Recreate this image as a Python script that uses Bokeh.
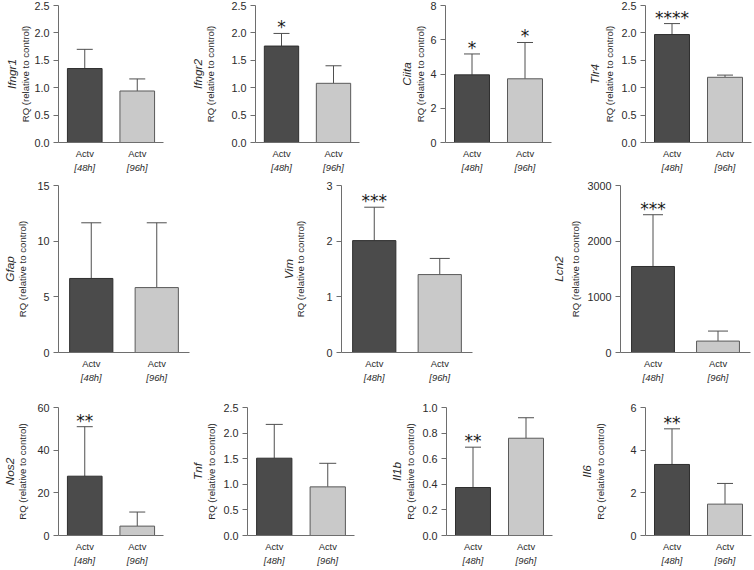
from bokeh.plotting import figure
from bokeh.models import (Range1d, FixedTicker, LinearAxis, Title, Whisker, TeeHead,
                          ColumnDataSource, NumeralTickFormatter, CustomJSTickFormatter)
from bokeh.layouts import column, row
from bokeh.core.properties import value
from bokeh.embed import file_html
from bokeh.resources import INLINE

# ---------------- data ----------------
genes = ["Ifngr1", "Ifngr2", "Ciita", "Tlr4", "Gfap", "Vim", "Lcn2",
         "Nos2", "Tnf", "Il1b", "Il6"]
groups = ["48h", "96h"]
group_line1 = ["Actv", "Actv"]
group_line2 = ["[48h]", "[96h]"]
y_label = "RQ (relative to control)"

mean_48h = [1.35, 1.76, 3.95, 1.97, 6.65, 2.01, 1545, 27.8, 1.51, 0.375, 3.33]
upper_48h = [1.70, 1.99, 5.17, 2.17, 11.65, 2.61, 2475, 51.0, 2.17, 0.69, 5.0]
mean_96h = [0.94, 1.08, 3.72, 1.19, 5.83, 1.40, 205, 4.4, 0.95, 0.76, 1.47]
upper_96h = [1.16, 1.40, 5.84, 1.23, 11.65, 1.69, 385, 11.0, 1.41, 0.92, 2.44]
stars_48h = ["", "*", "*", "****", "", "***", "***", "**", "", "**", "**"]
stars_96h = ["", "", "*", "", "", "", "", "", "", "", ""]

y_ticks = [
    [0, 0.5, 1.0, 1.5, 2.0, 2.5],
    [0, 0.5, 1.0, 1.5, 2.0, 2.5],
    [0, 2, 4, 6, 8],
    [0, 0.5, 1.0, 1.5, 2.0, 2.5],
    [0, 5, 10, 15],
    [0, 1, 2, 3],
    [0, 1000, 2000, 3000],
    [0, 20, 40, 60],
    [0, 0.5, 1.0, 1.5, 2.0, 2.5],
    [0, 0.2, 0.4, 0.6, 0.8, 1.0],
    [0, 2, 4, 6],
]
y_tick_labels = [
    ["0.0", "0.5", "1.0", "1.5", "2.0", "2.5"],
    ["0.0", "0.5", "1.0", "1.5", "2.0", "2.5"],
    ["0", "2", "4", "6", "8"],
    ["0.0", "0.5", "1.0", "1.5", "2.0", "2.5"],
    ["0", "5", "10", "15"],
    ["0", "1", "2", "3"],
    ["0", "1000", "2000", "3000"],
    ["0", "20", "40", "60"],
    ["0.0", "0.5", "1.0", "1.5", "2.0", "2.5"],
    ["0.0", "0.2", "0.4", "0.6", "0.8", "1.0"],
    ["0", "2", "4", "6"],
]

# ---------------- layout (reference pixel geometry) ----------------
SX = 752 / 754
SY = 568 / 570
ROW_EDGES = [0, 178, 386, 570]
FRAME_Y = [(5, 142), (185.5, 358), (408, 543)]
PANEL_ROWS = [[0, 1, 2, 3], [4, 5, 6], [7, 8, 9, 10]]
# (cell_left, cell_right, frame_left, frame_right)
PANEL_X = [
    (0, 185, 58, 163), (185, 375, 256, 360), (375, 565, 446, 552), (565, 754, 647, 753),
    (0, 250, 58, 190), (250, 505, 342, 473), (505, 754, 622, 752),
    (0, 185, 58, 163), (185, 375, 248, 355), (375, 565, 447, 553), (565, 754, 647, 753),
]
RQ_DIST = [33.5, 46, 25.3, 37, 37, 42, 45.3, 36.3, 36.3, 37, 45.3]
GENE_DIST = [11.5, 9.5, 12, 13, 9.5, 8.5, 17, 10, 11, 11.5, 11]
RQ_FIX = -4
GENE_FIX = -2

FONT = "Liberation Sans"
TICK_SIZE = 10.8
LABEL_SIZE = 9.6
GENE_SIZE = 11.8
CAT_SIZE = 9.4
STAR_SIZE = 17
AX = "#6e6e6e"
TXT = "#2b2b2b"
DARK, DARK_LINE = "#4b4b4b", "#2f2f2f"
LIGHT, LIGHT_LINE = "#c9c9c9", "#5a5a5a"
ERR = "#4f4f4f"
BAR_W = 0.66
TICK_OUT = 5
TICK_STANDOFF = 4


def tw(s, size):
    return sum(0.556 if c.isdigit() else 0.278 for c in s) * size


def make_panel(i, row_idx):
    cl, cr, fl, fr = PANEL_X[i]
    ft, fb = FRAME_Y[row_idx]
    rt, rb = ROW_EDGES[row_idx], ROW_EDGES[row_idx + 1]
    cl_o, cr_o = round(cl * SX), round(cr * SX)
    fl_o, fr_o = round(fl * SX), round(fr * SX)
    rt_o, rb_o = round(rt * SY), round(rb * SY)
    ft_o, fb_o = round(ft * SY), round(fb * SY)
    w = cr_o - cl_o
    h = rb_o - rt_o
    frame_w = fr_o - fl_o

    p = figure(width=w, height=h,
               x_range=Range1d(0, len(groups)),
               y_range=Range1d(0, y_ticks[i][-1]),
               output_backend="svg", toolbar_location=None, margin=(0, 0, 0, 0),
               min_border_left=fl_o - cl_o, min_border_right=cr_o - fr_o,
               min_border_top=ft_o - rt_o, min_border_bottom=rb_o - fb_o)
    p.xgrid.visible = False
    p.ygrid.visible = False
    p.outline_line_color = None
    p.background_fill_color = "white"
    p.border_fill_color = "white"

    ya = p.yaxis[0]
    ya.ticker = FixedTicker(ticks=y_ticks[i])
    ya.formatter = NumeralTickFormatter(format="0.0" if "." in y_tick_labels[i][0] else "0")
    ya.major_label_overrides = {float(t): l for t, l in zip(y_ticks[i], y_tick_labels[i])}
    ya.minor_tick_line_color = None
    ya.major_tick_out = TICK_OUT
    ya.major_tick_in = 0
    ya.axis_line_color = AX
    ya.major_tick_line_color = AX
    ya.major_label_standoff = TICK_STANDOFF
    ya.major_label_text_font = FONT
    ya.major_label_text_font_size = f"{TICK_SIZE}px"
    ya.major_label_text_color = TXT
    ya.axis_label = y_label
    ya.axis_label_text_font = FONT
    ya.axis_label_text_font_style = "normal"
    ya.axis_label_text_font_size = f"{LABEL_SIZE}px"
    ya.axis_label_text_color = TXT
    maxw = max(tw(s, TICK_SIZE) for s in y_tick_labels[i])
    lh = LABEL_SIZE * 1.15
    als = RQ_DIST[i] * SX - TICK_OUT - TICK_STANDOFF - maxw - lh / 2 + RQ_FIX
    ya.axis_label_standoff = int(round(als))

    gh = GENE_SIZE * 1.15
    gstand = GENE_DIST[i] * SX - lh / 2 - gh / 2 + GENE_FIX
    p.add_layout(Title(text=genes[i], align="center", text_font=FONT,
                       text_font_style="italic", text_font_size=f"{GENE_SIZE}px",
                       text_color=TXT, standoff=int(round(gstand))), "left")

    xpos = [k + 0.5 for k in range(len(groups))]
    xa = p.xaxis[0]
    xa.ticker = FixedTicker(ticks=xpos)
    xa.formatter = CustomJSTickFormatter(args=dict(labels=group_line1),
                                         code="return labels[Math.floor(tick)];")
    xa.minor_tick_line_color = None
    xa.major_tick_line_color = None
    xa.major_tick_out = 0
    xa.major_tick_in = 0
    xa.major_label_standoff = 5
    xa.axis_line_color = AX
    xa.major_label_text_font = FONT
    xa.major_label_text_font_size = f"{CAT_SIZE}px"
    xa.major_label_text_color = TXT
    xa2 = LinearAxis(ticker=FixedTicker(ticks=xpos),
                     formatter=CustomJSTickFormatter(args=dict(labels=group_line2),
                                                     code="return labels[Math.floor(tick)];"),
                     axis_line_color=None, major_tick_line_color=None,
                     minor_tick_line_color=None,
                     major_tick_out=0, major_tick_in=0, major_label_standoff=0,
                     major_label_text_font=FONT, major_label_text_font_style="italic",
                     major_label_text_font_size=f"{CAT_SIZE}px",
                     major_label_text_color=TXT)
    p.add_layout(xa2, "below")

    src = ColumnDataSource(dict(
        x=xpos,
        m=[mean_48h[i], mean_96h[i]],
        u=[upper_48h[i], upper_96h[i]],
        s=[stars_48h[i], stars_96h[i]],
        fill=[DARK, LIGHT],
        line=[DARK_LINE, LIGHT_LINE],
    ))
    cap = max(6, int(round(frame_w * 0.5 * BAR_W * 0.47)))
    p.add_layout(Whisker(source=src, base="x", lower="m", upper="u", dimension="height",
                         line_color=ERR, line_width=1,
                         upper_head=TeeHead(size=cap, line_color=ERR, line_width=1),
                         lower_head=None))
    p.vbar(x="x", top="m", bottom=0, width=BAR_W, source=src,
           fill_color="fill", line_color="line", line_width=1)
    p.text(x="x", y="u", text="s", source=src, text_font=value("DejaVu Sans"),
           text_font_size=f"{STAR_SIZE}px", text_align="center",
           text_baseline="alphabetic", y_offset=-6, text_color="#1a1a1a")
    return p


rows = []
for r, idxs in enumerate(PANEL_ROWS):
    rows.append(row(*[make_panel(i, r) for i in idxs], margin=(0, 0, 0, 0)))
layout = column(*rows, margin=(0, 0, 0, 0))

open("out.html", "w").write(file_html(layout, INLINE))
